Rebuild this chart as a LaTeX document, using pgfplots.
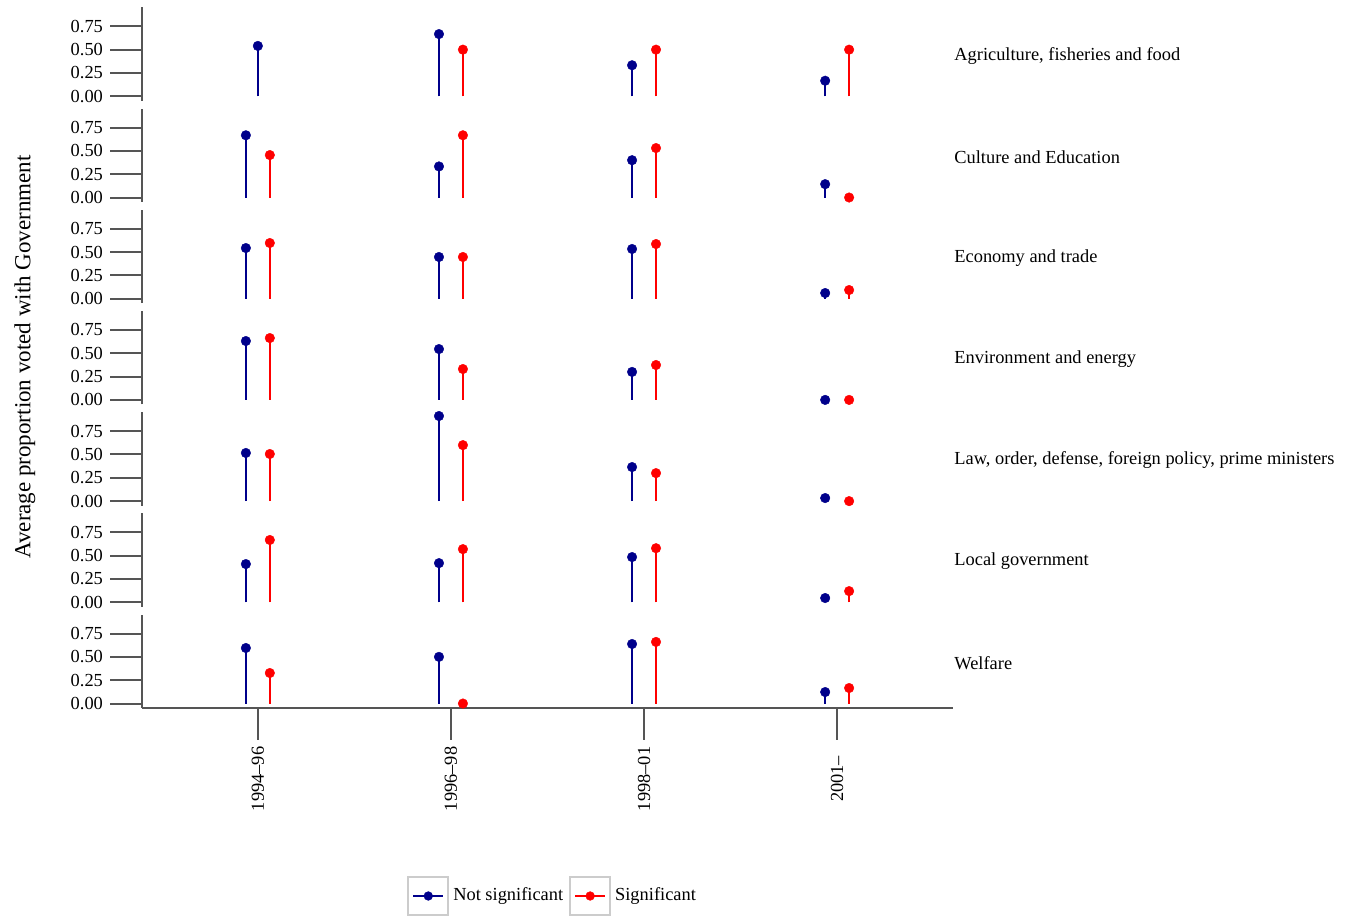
\documentclass[border=0pt]{standalone}
\usepackage{fontspec}
\setmainfont{Liberation Serif}
\usepackage{pgfplots}
\pgfplotsset{compat=1.18}
\definecolor{navy}{HTML}{00008B}
\definecolor{sigred}{HTML}{FF0000}
\definecolor{axgray}{HTML}{555555}
\newcommand{\fs}{\fontsize{9.2}{11}\selectfont}
\pgfplotsset{
  panel/.style={
    width=405.5pt, height=46.65pt, scale only axis,
    xmin=0.4, xmax=4.6, ymin=-0.048, ymax=0.952,
    ytick={0,0.25,0.5,0.75},
    yticklabel style={/pgf/number format/.cd, fixed, fixed zerofill, precision=2},
    /pgf/number format/assume math mode=true,
    tick align=outside, major tick length=16pt,
    axis y line*=left,
    axis line style={axgray, line width=1pt},
    tick style={axgray, line width=1pt},
    tick label style={font=\fs},
    clip=false,
    anchor=south west,
  },
  toppanel/.style={panel, hide x axis},
  ns/.style={ycomb, navy, line width=1.1pt, mark=*, mark size=2.4pt, mark options={line width=0.2pt, fill=navy}},
  sg/.style={ycomb, sigred, line width=1.1pt, mark=*, mark size=2.4pt, mark options={line width=0.2pt, fill=sigred}},
}
\newcommand{\strip}[1]{\node[anchor=west, inner sep=0pt, xshift=0.5pt, font=\fs] at (rel axis cs:1,0.485) {#1};}
\begin{document}
\begin{tikzpicture}
\path[use as bounding box] (0,0) rectangle (675pt,460pt);
% Panel 1
\begin{axis}[toppanel, at={(71pt,409.6pt)}]
\addplot[ns] coordinates {(1,0.54) (1.938,0.667) (2.938,0.333) (3.938,0.167)};
\addplot[sg] coordinates {(2.062,0.5) (3.062,0.5) (4.062,0.5)};
\strip{Agriculture, fisheries and food}
\end{axis}
% Panel 2
\begin{axis}[toppanel, at={(71pt,359.0pt)}]
\addplot[ns] coordinates {(0.938,0.667) (1.938,0.333) (2.938,0.40) (3.938,0.143)};
\addplot[sg] coordinates {(1.062,0.455) (2.062,0.667) (3.062,0.53) (4.062,0.0)};
\strip{Culture and Education}
\end{axis}
% Panel 3
\begin{axis}[toppanel, at={(71pt,308.4pt)}]
\addplot[ns] coordinates {(0.938,0.543) (1.938,0.447) (2.938,0.533) (3.938,0.061)};
\addplot[sg] coordinates {(1.062,0.597) (2.062,0.447) (3.062,0.586) (4.062,0.093)};
\strip{Economy and trade}
\end{axis}
% Panel 4
\begin{axis}[toppanel, at={(71pt,257.8pt)}]
\addplot[ns] coordinates {(0.938,0.631) (1.938,0.545) (2.938,0.30) (3.938,0.0)};
\addplot[sg] coordinates {(1.062,0.663) (2.062,0.331) (3.062,0.374) (4.062,0.0)};
\strip{Environment and energy}
\end{axis}
% Panel 5
\begin{axis}[toppanel, at={(71pt,207.2pt)}]
\addplot[ns] coordinates {(0.938,0.516) (1.938,0.912) (2.938,0.365) (3.938,0.033)};
\addplot[sg] coordinates {(1.062,0.505) (2.062,0.60) (3.062,0.30) (4.062,0.0)};
\strip{Law, order, defense, foreign policy, prime ministers}
\end{axis}
% Panel 6
\begin{axis}[toppanel, at={(71pt,156.6pt)}]
\addplot[ns] coordinates {(0.938,0.41) (1.938,0.42) (2.938,0.485) (3.938,0.046)};
\addplot[sg] coordinates {(1.062,0.668) (2.062,0.57) (3.062,0.58) (4.062,0.12)};
\strip{Local government}
\end{axis}
% Panel 7
\begin{axis}[panel, at={(71pt,106pt)},
  axis x line*=bottom,
  xtick={1,2,3,4},
  xticklabels={1994--96,1996--98,1998--01,2001--},
  x tick label style={rotate=90, anchor=center},
  xticklabel shift=19.5pt,
  legend style={at={(0.5075,-2.015)}, anchor=center, draw=none, fill=none, font=\fs,
    legend columns=2, /tikz/every even column/.append style={column sep=1pt}},
  legend image code/.code={
    \draw[black!20, line width=1pt, solid] (0pt,-9.5pt) rectangle (20pt,9.5pt);
    \draw[mark repeat=2, mark phase=2, #1] plot coordinates {(2.5pt,0pt) (10pt,0pt) (17.5pt,0pt)};
  },
]
\addlegendimage{navy, line width=1pt, mark=*, mark size=2.2pt, mark options={fill=navy, line width=0.2pt}}
\addlegendentry{Not significant}
\addlegendimage{sigred, line width=1pt, mark=*, mark size=2.2pt, mark options={fill=sigred, line width=0.2pt}}
\addlegendentry{Significant}
\addplot[ns, forget plot] coordinates {(0.938,0.595) (1.938,0.50) (2.938,0.638) (3.938,0.123)};
\addplot[sg, forget plot] coordinates {(1.062,0.327) (2.062,0.0) (3.062,0.66) (4.062,0.166)};
\strip{Welfare}
\end{axis}
\node[rotate=90, anchor=base, inner sep=0pt, font=\fontsize{11.5}{13}\selectfont] at (15.25pt,281.5pt) {Average proportion voted with Government};
\end{tikzpicture}
\end{document}
